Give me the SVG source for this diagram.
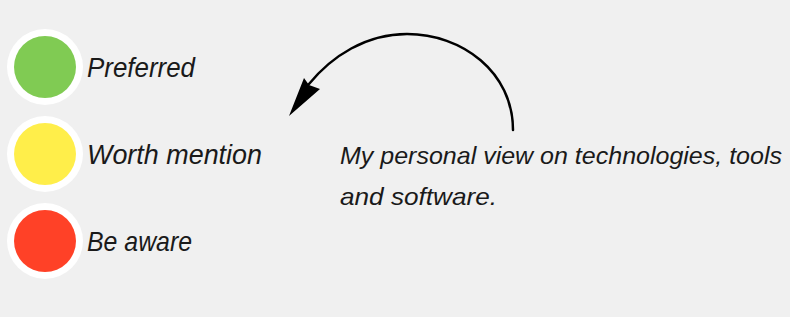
<svg xmlns="http://www.w3.org/2000/svg" width="790" height="317" viewBox="0 0 790 317">
  <style>
    .ring { fill: #ffffff; }
    .label { font-family: "Liberation Sans", "DejaVu Sans", sans-serif; font-style: italic; font-size: 28px; fill: #1a1a1a; }
    .note { font-family: "Liberation Sans", "DejaVu Sans", sans-serif; font-style: italic; font-size: 24px; fill: #1a1a1a; }
    .conn { fill: none; stroke: #000000; stroke-width: 2.5; stroke-linecap: round; }
  </style>
  <rect width="790" height="317" fill="#f0f0f0"/>

  <g id="preferred">
    <circle class="ring" cx="45" cy="67" r="38"/>
    <circle cx="45" cy="67" r="31" fill="#80cb53"/>
    <text class="label" x="87" y="77" textLength="108" lengthAdjust="spacingAndGlyphs">Preferred</text>
  </g>

  <g id="worth-mention">
    <circle class="ring" cx="45" cy="154" r="38"/>
    <circle cx="45" cy="154" r="31" fill="#ffee4a"/>
    <text class="label" x="87" y="164" textLength="175" lengthAdjust="spacingAndGlyphs">Worth mention</text>
  </g>

  <g id="be-aware">
    <circle class="ring" cx="45" cy="241" r="38"/>
    <circle cx="45" cy="241" r="31" fill="#ff4127"/>
    <text class="label" x="87" y="251" textLength="105" lengthAdjust="spacingAndGlyphs">Be aware</text>
  </g>

  <g id="note">
    <text class="note" x="340" y="164" textLength="442" lengthAdjust="spacingAndGlyphs">My personal view on technologies, tools</text>
    <text class="note" x="340" y="205" textLength="157" lengthAdjust="spacingAndGlyphs">and software.</text>
  </g>

  <g id="connectors">
    <path class="conn" d="M513,130 C513,72 462,34 407,34 C366,34 332,56 309,84"/>
    <polygon points="289,116 304,78 309,85 320,89" fill="#000000"/>
  </g>
</svg>
